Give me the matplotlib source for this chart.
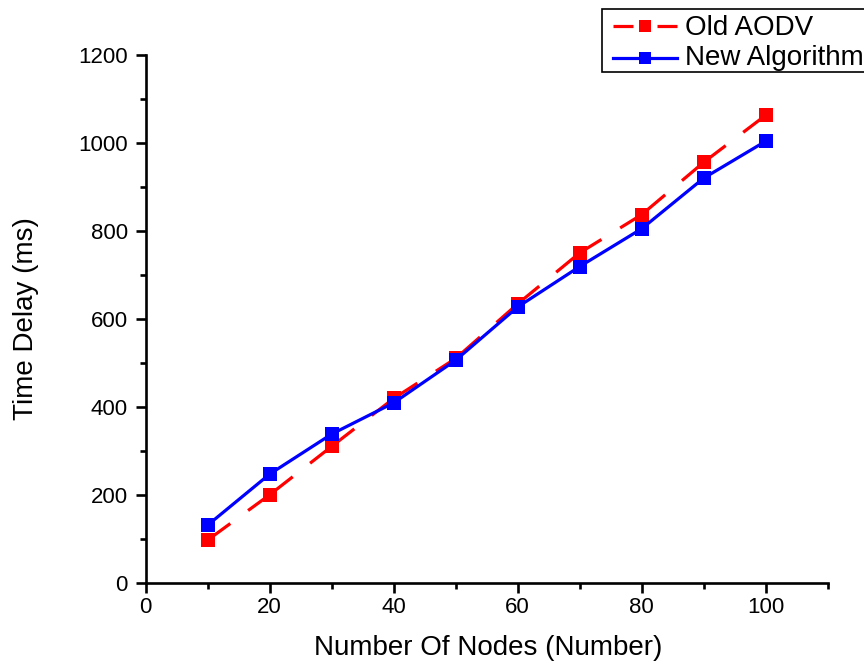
import matplotlib
matplotlib.use("Agg")
import matplotlib.pyplot as plt
from matplotlib.ticker import MultipleLocator
from matplotlib.lines import Line2D
from matplotlib.patches import Rectangle

plt.rcParams['font.family'] = ['Liberation Sans', 'DejaVu Sans']

nodes = [10, 20, 30, 40, 50, 60, 70, 80, 90, 100]
old_aodv = [97, 200, 310, 419, 510, 634, 750, 837, 956, 1063]
new_algo = [131, 247, 338, 409, 506, 627, 719, 805, 920, 1004]
series_names = ['Old AODV', 'New Algorithm']

W, H = 864, 666
fig = plt.figure(figsize=(W / 100, H / 100), dpi=100)
# axes box in pixels: left 145.7, right 827.7, top 55, bottom 582.7
ax = fig.add_axes([145.7 / W, 1 - 582.7 / H, 682 / W, 527.7 / H])

lw = 2.3
lw_px = lw * 100 / 72
# dash of ~56px centred on every marker, gap ~22px
red_ls = (28 / lw_px, (56 / lw_px, 22 / lw_px))

ax.plot(nodes, old_aodv, color='#ff0000', lw=lw, ls=red_ls, marker='s',
        ms=9.6, mew=0, solid_capstyle='butt', dash_capstyle='butt')
ax.plot(nodes, new_algo, color='#0000ff', lw=lw, marker='s', ms=9.6, mew=0)

ax.set_xlim(0, 110)
ax.set_ylim(0, 1200)
ax.xaxis.set_major_locator(MultipleLocator(20))
ax.xaxis.set_minor_locator(MultipleLocator(10))
ax.yaxis.set_major_locator(MultipleLocator(200))
ax.yaxis.set_minor_locator(MultipleLocator(100))

for side in ['top', 'right']:
    ax.spines[side].set_visible(False)
for side in ['left', 'bottom']:
    ax.spines[side].set_linewidth(1.9)

ax.tick_params(which='major', direction='out', length=7, width=1.9, labelsize=16)
ax.tick_params(which='minor', direction='out', length=4, width=1.9)
ax.tick_params(axis='x', which='major', pad=3)
ax.tick_params(axis='y', which='major', pad=6)

ax.set_xlabel('Number Of Nodes (Number)', fontsize=20)
ax.set_ylabel('Time Delay (ms)', fontsize=20)
ax.xaxis.set_label_coords(0.502, -0.100)
ax.yaxis.set_label_coords(-0.157, 0.5)

# legend box drawn by hand, cut off at the right figure edge
def fx(px):
    return px / W

def fy(py):
    return 1 - py / H

fig.add_artist(Rectangle((fx(601.7), fy(72)), fx(300), 63 / H, transform=fig.transFigure,
                         facecolor='white', edgecolor='black', lw=1.2))
rows = [(26, '#ff0000', (0, (20 / lw_px, 24 / lw_px)), 35),
        (58, '#0000ff', '-', 65)]
for name, (ry, col, ls, base) in zip(series_names, rows):
    fig.add_artist(Line2D([fx(613), fx(677)], [fy(ry), fy(ry)], transform=fig.transFigure,
                          color=col, lw=lw, ls=ls, dash_capstyle='butt'))
    fig.add_artist(Line2D([fx(645)], [fy(ry)], transform=fig.transFigure,
                          color=col, marker='s', ms=8.5, mew=0, ls='none'))
    fig.text(fx(685), fy(base), name, fontsize=20, va='baseline', ha='left')

fig.savefig('out.png', dpi=100)
